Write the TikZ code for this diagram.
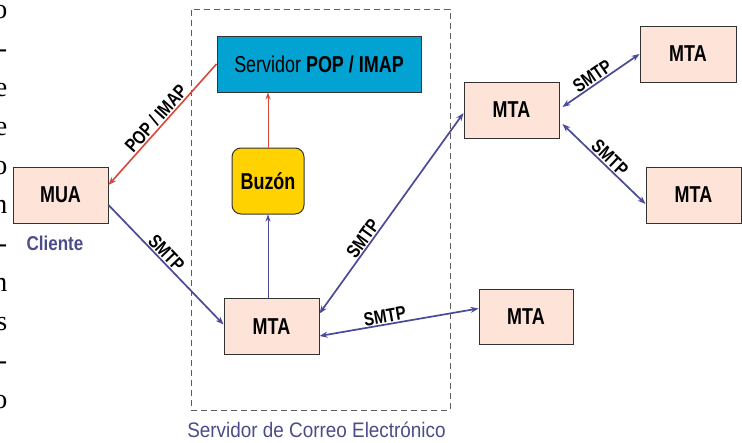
\documentclass[tikz,border=0pt]{standalone}
\usepackage{fontspec}
\setmainfont{Liberation Serif}
\newfontfamily\hv[FakeStretch=0.85]{Liberation Sans}
\newfontfamily\hvc[FakeStretch=0.78]{Liberation Sans}
\newfontfamily\hvl[FakeStretch=0.8]{Liberation Sans}
\newfontfamily\hvw[FakeStretch=0.9]{Liberation Sans}
\usetikzlibrary{arrows.meta,calc}
\definecolor{boxfill}{HTML}{FDE3D8}
\definecolor{popfill}{HTML}{02A3D3}
\definecolor{buzfill}{HTML}{FFD200}
\definecolor{arrowblue}{HTML}{4A4A98}
\definecolor{arrowred}{HTML}{D9473B}
\definecolor{txtblue}{HTML}{4C4C88}
\definecolor{edge}{HTML}{333333}
\tikzset{
  mtabox/.style={draw=edge, fill=boxfill, line width=1pt, minimum width=95pt, minimum height=56pt, inner sep=0pt, font=\hvc\bfseries\fontsize{23}{23}\selectfont},
  lbl/.style={font=\hvl\bfseries\fontsize{19}{19}\selectfont, sloped, above, inner sep=1pt},
  bi/.style={draw=arrowblue, line width=1.7pt, arrows={Stealth[length=8pt,width=6pt]-Stealth[length=8pt,width=6pt]}},
  uni/.style={draw=arrowblue, line width=1.7pt, arrows={-Stealth[length=8pt,width=6pt]}},
  thinblue/.style={draw=arrowblue, line width=1pt, arrows={-Stealth[length=7pt,width=5pt]}},
  red/.style={draw=arrowred, line width=1.6pt, arrows={-Stealth[length=8pt,width=6pt]}},
  thinred/.style={draw=arrowred, line width=1pt, arrows={-Stealth[length=7pt,width=5pt]}},
  margintext/.style={anchor=base east, inner sep=0pt, font=\fontsize{28}{28}\selectfont}
}
\begin{document}
\begin{tikzpicture}[x=1pt,y=-1pt]
\clip (0,0) rectangle (742,442);
\fill[white] (0,0) rectangle (742,442);

% stray text of the page at the left edge
\foreach \t [count=\i from 0] in {o,-,e,e,o,n,-,n,s,-,o} {
  \node[margintext] (m\i) at (7.5,{18+39*\i}) {\t};
}

% server frame
\node[draw=edge!80, dashed, dash pattern=on 6pt off 4pt, line width=0.9pt, minimum width=259pt, minimum height=401pt, inner sep=0pt] (srv) at (320.5,209.5) {};
\node[font=\hvw\fontsize{21}{21}\selectfont, text=txtblue, inner sep=0pt] (srvlbl) at (316.5,430) {Servidor de Correo Electrónico};

% boxes
\node[mtabox] (mua) at (60.5,195) {MUA};
\node[font=\hv\bfseries\fontsize{20}{20}\selectfont, text=txtblue, inner sep=0pt] (cli) at (55,243) {Cliente};
\node[draw=edge, fill=popfill, line width=1pt, minimum width=204pt, minimum height=56pt, inner sep=0pt, font=\hvc\fontsize{23}{23}\selectfont] (pop) at (319,64) {Servidor \textbf{POP / IMAP}};
\node[draw=edge, fill=buzfill, line width=1pt, rounded corners=9pt, minimum width=72pt, minimum height=66pt, inner sep=0pt, font=\hvc\bfseries\fontsize{23}{23}\selectfont] (buz) at (268,181) {Buzón};
\node[mtabox] (mta0) at (271.5,326.5) {MTA};
\node[mtabox] (mta1) at (511.5,110) {MTA};
\node[mtabox, minimum width=96pt] (mta2) at (688,54) {MTA};
\node[mtabox] (mta3) at (693.5,195) {MTA};
\node[mtabox, minimum width=94pt, minimum height=55pt] (mta4) at (526,316.5) {MTA};

% connectors
\draw[red] (pop.west) -- node[lbl, text=black] {POP / IMAP} ([yshift=10pt]mua.east);
\draw[thinred] (buz.north) -- (buz.north |- pop.south);
\draw[uni] ([yshift=-10pt]mua.east) -- node[lbl, pos=0.45] {SMTP} ([yshift=2pt]mta0.west);
\draw[thinblue] (buz.south |- mta0.north) -- (buz.south);
\draw[bi] ([yshift=13pt]mta0.east) -- node[lbl, pos=0.35] {SMTP} ([yshift=-3pt]mta1.west);
\draw[bi] ([yshift=-9.5pt]mta0.east) -- node[lbl, pos=0.42] {SMTP} ([yshift=8pt]mta4.west);
\draw[bi] ([xshift=3pt,yshift=3pt]mta1.east) -- node[lbl, pos=0.45] {SMTP} (mta2.west);
\draw[bi] ([xshift=3pt,yshift=-14pt]mta1.east) -- node[lbl, pos=0.5] {SMTP} ([yshift=-9pt]mta3.west);
\end{tikzpicture}
\end{document}
